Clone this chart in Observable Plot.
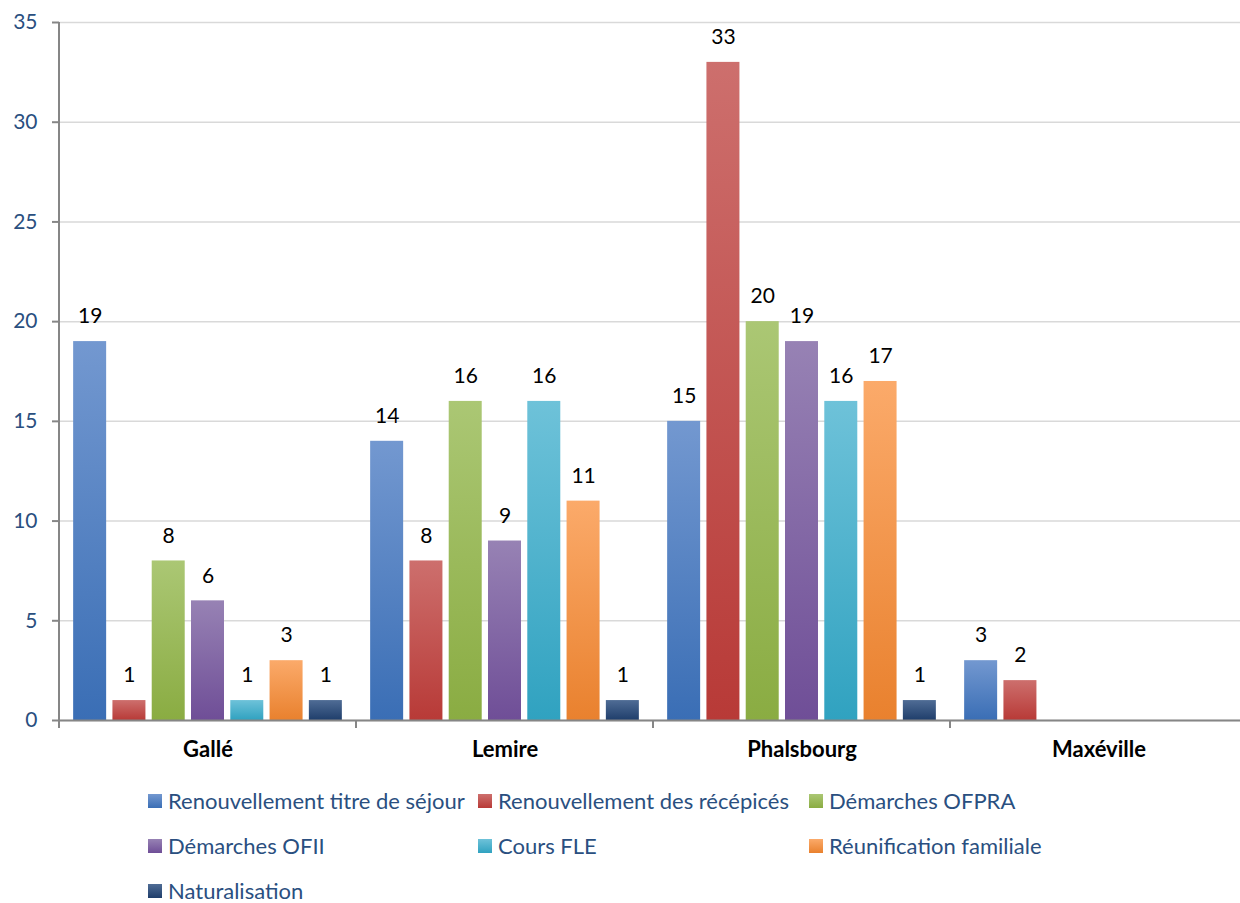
<!DOCTYPE html>
<html><head><meta charset="utf-8">
<script src="https://cdn.jsdelivr.net/npm/d3@7"></script>
<script src="https://cdn.jsdelivr.net/npm/@observablehq/plot@0.6"></script>
<style>
html,body{margin:0;padding:0;background:#fff;overflow:hidden;}
#chart svg{max-width:none !important;display:block;}
#legend{display:grid;grid-template-columns:330px 331px 330px;row-gap:23px;margin-left:148px;padding-top:20px;font-family:Lato,"Open Sans",sans-serif;font-size:22px;line-height:22px;color:#2a4f80;}
.item{height:22px;display:flex;align-items:center;white-space:nowrap;}
.sw{width:14px;height:14px;margin-right:6px;flex:none;}
</style></head><body><div id="chart"></div><div id="legend"></div>
<script>
const groups = ["Gallé", "Lemire", "Phalsbourg", "Maxéville"];
const series = ["Renouvellement titre de séjour", "Renouvellement des récépicés", "Démarches OFPRA", "Démarches OFII", "Cours FLE", "Réunification familiale", "Naturalisation"];
const valuesGalle = [19, 1, 8, 6, 1, 3, 1];
const valuesLemire = [14, 8, 16, 9, 16, 11, 1];
const valuesPhalsbourg = [15, 33, 20, 19, 16, 17, 1];
const valuesMaxeville = [3, 2, null, null, null, null, null];
const topColors = ["#7398d0", "#cd6f6d", "#abc774", "#9782b4", "#6ec2d9", "#fbaa6a", "#4f6c95"];
const bottomColors = ["#3a6eb5", "#b83a37", "#8aac42", "#6f4e97", "#30a2c0", "#e9812e", "#1f3e6b"];
const yTicks = [0, 5, 10, 15, 20, 25, 30, 35];

const valueTable = [valuesGalle, valuesLemire, valuesPhalsbourg, valuesMaxeville];
const data = [];
groups.forEach((g, gi) => series.forEach((s, si) => {
  const v = valueTable[gi][si];
  if (v != null) data.push({group: g, series: s, value: v});
}));
const gradIds = series.map((s, i) => `grad${i}`);

const plot = Plot.plot({
  width: 1240, height: 770,
  marginLeft: 57, marginRight: 0, marginTop: 22, marginBottom: 50,
  style: {fontFamily: "Lato, 'Open Sans', sans-serif", fontSize: "21px", background: "#fff"},
  fx: {domain: groups, range: [57, 1248], padding: 0, label: null},
  x: {domain: series, paddingInner: 0.16, paddingOuter: 0.36, round: false, axis: null},
  y: {domain: [0, 35], label: null},
  color: {type: "ordinal", domain: series, range: gradIds.map(id => `url(#${id})`)},
  marks: [
    Plot.gridY(yTicks, {stroke: "#d9d9d9", strokeOpacity: 1, strokeWidth: 1.5}),
    Plot.barY(data, {fx: "group", x: "series", y: "value", fill: "series"}),
    Plot.text(data, {fx: "group", x: "series", y: "value", text: d => String(d.value), dy: -25, fill: "#000", fontSize: 21}),
    Plot.axisY(yTicks, {tickSize: 7, tickPadding: 15, stroke: "#868686", strokeWidth: 2, fill: "#2a4f80", fontSize: 21, label: null}),
    Plot.axisFx({anchor: "bottom", tickSize: 0, tickPadding: 21, fontWeight: "bold", fill: "#000", fontSize: 22, label: null}),
    Plot.ruleY([0], {stroke: "#868686", strokeWidth: 2})
  ]
});

// gradients
const svg = d3.select(plot);
const defs = svg.insert("defs", ":first-child");
series.forEach((s, i) => {
  const lg = defs.append("linearGradient").attr("id", gradIds[i]).attr("x1", 0).attr("y1", 0).attr("x2", 0).attr("y2", 1);
  lg.append("stop").attr("offset", "0%").attr("stop-color", topColors[i]);
  lg.append("stop").attr("offset", "100%").attr("stop-color", bottomColors[i]);
});

// axis line and group boundary ticks, from the library's scales
const fx = plot.scale("fx");
const y = plot.scale("y");
const y0 = y.apply(0), yTop = y.apply(35);
const bounds = groups.map(g => fx.apply(g)).concat([fx.apply(groups[groups.length - 1]) + fx.bandwidth]);
const axisG = svg.append("g").attr("stroke", "#868686").attr("stroke-width", 2);
axisG.append("line").attr("x1", bounds[0]).attr("x2", bounds[0]).attr("y1", yTop).attr("y2", y0 + 8);
bounds.forEach(b => axisG.append("line").attr("x1", b).attr("x2", b).attr("y1", y0).attr("y2", y0 + 8));

document.getElementById("chart").appendChild(plot);

// legend
const legend = document.getElementById("legend");
series.forEach((s, i) => {
  const item = document.createElement("div");
  item.className = "item";
  const sw = document.createElement("span");
  sw.className = "sw";
  sw.style.background = `linear-gradient(${topColors[i]}, ${bottomColors[i]})`;
  item.appendChild(sw);
  item.appendChild(document.createTextNode(s));
  legend.appendChild(item);
});
</script></body></html>
